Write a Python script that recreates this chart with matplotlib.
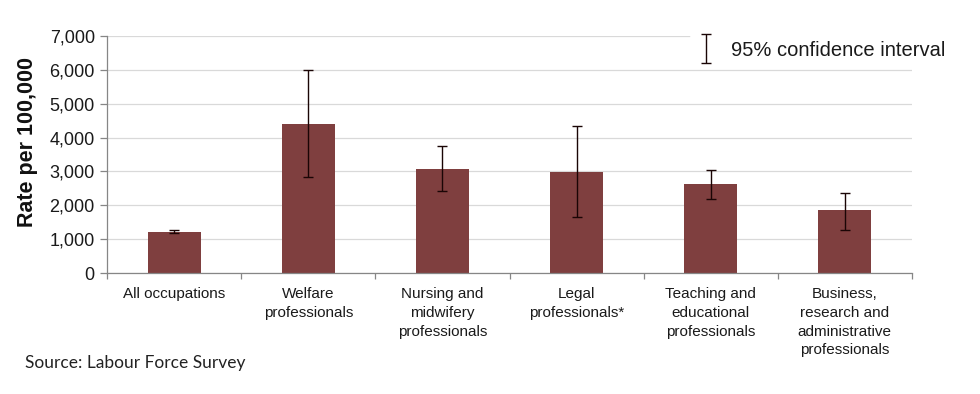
import numpy as np
import matplotlib
matplotlib.use("Agg")
import matplotlib.pyplot as plt
from matplotlib.legend_handler import HandlerErrorbar
from matplotlib.container import ErrorbarContainer

categories = ["All occupations", "Welfare\nprofessionals",
              "Nursing and\nmidwifery\nprofessionals", "Legal\nprofessionals*",
              "Teaching and\neducational\nprofessionals",
              "Business,\nresearch and\nadministrative\nprofessionals"]
values = [1215, 4410, 3065, 2975, 2645, 1855]
ci_lower = [1175, 2830, 2415, 1660, 2200, 1290]
ci_upper = [1290, 5980, 3760, 4340, 3050, 2380]
yticks = [0, 1000, 2000, 3000, 4000, 5000, 6000, 7000]
ytick_labels = ["0", "1,000", "2,000", "3,000", "4,000", "5,000", "6,000", "7,000"]

plt.rcParams['font.family'] = ['Liberation Sans', 'DejaVu Sans']

W, H = 980, 394
fig = plt.figure(figsize=(W / 100, H / 100), dpi=100)
ax = fig.add_axes([107.3 / W, 1 - 273.3 / H, (911.7 - 107.3) / W, (273.3 - 35.7) / H])

x = np.arange(len(categories))
vals = np.array(values)
yerr = [vals - np.array(ci_lower), np.array(ci_upper) - vals]
ax.bar(x, vals, width=0.4, color='#7F3F3F', zorder=2)
eb = ax.errorbar(x, vals, yerr=yerr, fmt='none', ecolor='#1a0505', elinewidth=1.0,
                 capsize=3.5, capthick=1.0, zorder=3, label='95% confidence interval')

ax.set_xlim(-0.5, len(categories) - 0.5)
ax.set_ylim(0, 7000)
ax.set_yticks(yticks)
ax.set_yticklabels(ytick_labels, fontsize=13, color='#1a1a1a')
ax.yaxis.grid(True, color='#D9D9D9', linewidth=0.9, zorder=0)
ax.set_axisbelow(True)

ax.set_xticks(x)
ax.set_xticklabels(categories, fontsize=11,
                   linespacing=1.43, color='#1a1a1a', va='top')
ax.tick_params(axis='x', which='major', length=0, pad=10)
ax.set_xticks(np.arange(-0.5, len(categories)), minor=True)
ax.tick_params(axis='x', which='minor', length=4, color='#868686', width=0.9)
ax.tick_params(axis='y', length=5, color='#868686', width=0.9, pad=4)

for s in ['top', 'right']:
    ax.spines[s].set_visible(False)
for s in ['left', 'bottom']:
    ax.spines[s].set_color('#868686')
    ax.spines[s].set_linewidth(0.9)

fig.text(27 / W, 1 - 142 / H, "Rate per 100,000", rotation=90, fontsize=15.5,
         fontweight='bold', ha='center', va='center', color='#111111')

leg = ax.legend(handles=[eb], loc='center left',
                bbox_to_anchor=(690 / W, 1 - 50 / H), bbox_transform=fig.transFigure,
                fontsize=14.5, frameon=True, framealpha=1, edgecolor='none',
                facecolor='white', handlelength=1.0, handletextpad=0.75,
                borderpad=0.3, borderaxespad=0,
                handler_map={ErrorbarContainer: HandlerErrorbar(yerr_size=0.72)})
for t in leg.get_texts():
    t.set_color('#1a1a1a')

fig.text(25 / W, 1 - 363 / H, "Source: Labour Force Survey", fontsize=12.5,
         family=['Lato', 'DejaVu Sans'], ha='left', va='center', color='#222222')

fig.savefig("out.png", dpi=100, facecolor='white')
